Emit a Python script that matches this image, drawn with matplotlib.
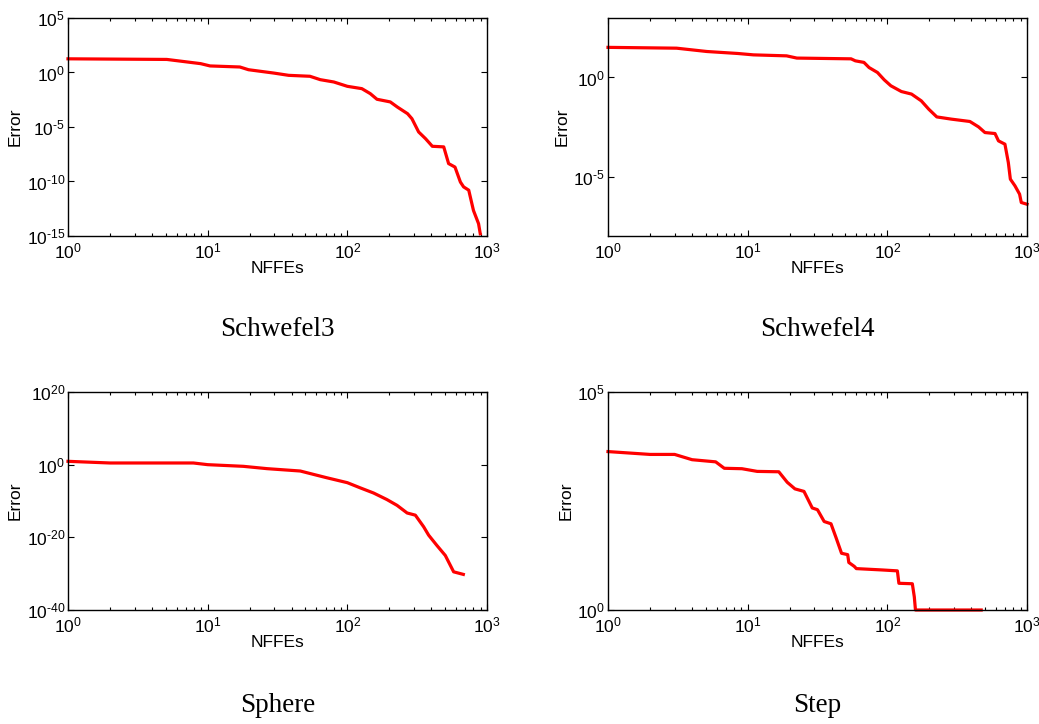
import matplotlib
matplotlib.use("Agg")
import matplotlib.pyplot as plt
from matplotlib.ticker import LogLocator, NullLocator, NullFormatter

plt.rcParams["font.family"] = ["Liberation Sans", "DejaVu Sans"]
plt.rcParams["mathtext.fontset"] = "custom"
plt.rcParams["mathtext.rm"] = "Liberation Sans"
plt.rcParams["mathtext.it"] = "Liberation Sans:italic"

# Schwefel3 convergence (NFFEs, error)
s3_x = [1, 5.1, 8.9, 10.4, 17, 19.6, 29.7, 38, 54, 64, 80, 100, 127, 146, 163,
        203, 228, 270, 290, 324, 363, 406, 490, 531, 590, 645, 680, 740, 800, 870, 895]
s3_y = [18, 15.8, 6.5, 4.0, 3.2, 1.8, 0.89, 0.55, 0.45, 0.22, 0.135, 0.054, 0.033,
        0.0115, 0.0035, 2.0e-3, 6.8e-4, 1.66e-4, 5.8e-5, 3.5e-6, 8.5e-7, 1.7e-7,
        1.5e-7, 4.4e-9, 2.1e-9, 8.9e-11, 3.2e-11, 1.6e-11, 2.2e-13, 1.35e-14, 1.6e-15]

# Schwefel4
s4_x = [1, 3.1, 5.1, 8.5, 11, 19, 22.5, 55, 59, 68, 74, 85, 95, 106, 126, 149, 175,
        198, 226, 287, 390, 450, 500, 590, 625, 695, 735, 760, 820, 885, 910, 1000]
s4_y = [33, 30, 20.4, 16.2, 13.8, 12.3, 9.5, 8.7, 6.9, 5.75, 3.16, 1.78, 0.76, 0.38,
        0.195, 0.145, 0.066, 0.025, 0.0102, 0.0079, 0.006, 0.0032, 0.00166, 0.00148,
        6.3e-4, 4.3e-4, 5.1e-5, 7.4e-6, 3.4e-6, 1.29e-6, 4.9e-7, 4.0e-7]

# Sphere
sp_x = [1, 2, 7.9, 10, 18, 26.6, 46, 57, 71, 100, 124, 154, 192, 227, 268, 307,
        352, 382, 437, 503, 577, 677]
sp_y = [8.3, 2.9, 2.9, 1.0, 0.35, 0.08, 0.018, 2.2e-3, 2.6e-4, 1.1e-5, 4.0e-7,
        1.6e-8, 2.5e-10, 6.3e-12, 5.0e-14, 1.26e-14, 7.9e-18, 4.0e-20, 6.3e-23,
        1.0e-25, 3.2e-30, 6.3e-31]

# Step
st_x = [1, 2, 3, 4, 5.9, 6.8, 9.1, 11.7, 16.7, 19.2, 21.8, 25.3, 29, 31.6, 35.3,
        39.5, 43, 47, 52, 53, 58, 60, 91, 118, 121, 151, 156, 159, 470]
st_y = [4300, 3700, 3700, 2800, 2500, 1780, 1740, 1510, 1480, 850, 600, 525, 219,
        200, 107, 95, 45, 20, 18.6, 12.3, 10, 8.9, 8.3, 7.9, 4.1, 4.0, 2.0, 1.0, 1.0]

panels = [
    ("Schwefel3", s3_x, s3_y, (1e-15, 1e5), [1e-15, 1e-10, 1e-5, 1e0, 1e5],
     ["-15", "-10", "-5", "0", "5"]),
    ("Schwefel4", s4_x, s4_y, (1e-8, 1e3), [1e-5, 1e0], ["-5", "0"]),
    ("Sphere", sp_x, sp_y, (1e-40, 1e20), [1e-40, 1e-20, 1e0, 1e20],
     ["-40", "-20", "0", "20"]),
    ("Step", st_x, st_y, (1e0, 1e5), [1e0, 1e5], ["0", "5"]),
]


def pow_label(e):
    # short hyphen like the original instead of the wide math minus
    e = e.replace("-", r"\text{-}")
    return r"$\mathregular{10^{%s}}$" % e


fig = plt.figure(figsize=(10.39, 7.24), dpi=100)
lefts = [68 / 1039, 608 / 1039]
width = 419 / 1039
bottoms = [1 - 236 / 724, 1 - 610 / 724]
height = 218 / 724

for i, (name, xs, ys, ylim, yt, ylab) in enumerate(panels):
    r, c = divmod(i, 2)
    ax = fig.add_axes([lefts[c], bottoms[r], width, height])
    ax.plot(xs, ys, color="#ff0000", lw=2.3, clip_on=False)
    ax.set_xscale("log")
    ax.set_yscale("log")
    ax.set_xlim(1, 1e3)
    ax.set_ylim(*ylim)
    ax.set_xticks([1, 10, 100, 1000])
    ax.set_xticklabels([pow_label(str(k)) for k in range(4)])
    ax.xaxis.set_minor_locator(LogLocator(base=10, subs=range(2, 10), numticks=20))
    ax.xaxis.set_minor_formatter(NullFormatter())
    ax.set_yticks(yt)
    ax.set_yticklabels([pow_label(s) for s in ylab])
    ax.yaxis.set_minor_locator(NullLocator())
    ax.tick_params(which="both", direction="in", top=True, right=True,
                   labelsize=12.5, width=0.8)
    ax.tick_params(which="major", length=4)
    ax.tick_params(which="minor", length=2.5)
    ax.tick_params(axis="x", pad=4)
    ax.tick_params(axis="y", pad=2)
    for sp in ax.spines.values():
        sp.set_linewidth(1.0)
    ax.set_xlabel("NFFEs", fontsize=12.5, labelpad=0)
    ax.set_ylabel("Error", fontsize=12.5, labelpad=3)
    cx = lefts[c] + width / 2
    ty = 1 - (330 if r == 0 else 706) / 724
    fig.text(cx, ty, name, ha="center", va="center", fontsize=19.5,
             family=["Liberation Serif", "DejaVu Serif"])

fig.savefig("out.png", dpi=100)
